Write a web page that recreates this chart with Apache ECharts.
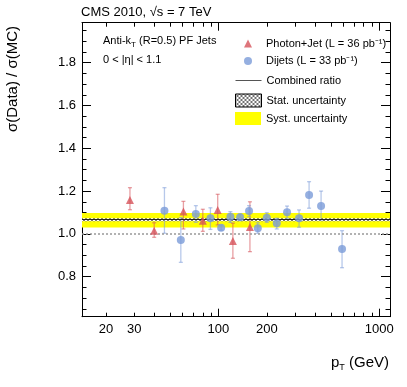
<!DOCTYPE html>
<html>
<head>
<meta charset="utf-8">
<script src="https://cdn.jsdelivr.net/npm/echarts@6/dist/echarts.min.js"></script>
<style>
  html, body { margin: 0; padding: 0; background: #fff; }
  #chart { width: 407px; height: 387px; }
</style>
</head>
<body>
<div id="chart"></div>
<script>
// Photon+Jet points
const photonPt = [28.2, 39.9, 60.6, 80, 99, 123, 157];
const photonRatio = [1.158, 1.015, 1.105, 1.062, 1.112, 0.967, 1.032];
const photonLow = [1.113, 0.984, 1.023, 1.012, 1.042, 0.886, 0.917];
const photonHigh = [1.216, 1.052, 1.152, 1.115, 1.185, 1.050, 1.150];

// Dijet points
const dijetPt = [46.2, 58.4, 72.4, 89.2, 104, 118.7, 136.4, 155, 175.7, 199.8, 230.5, 267, 317, 366, 434.5, 586.6];
const dijetRatio = [1.108, 0.972, 1.093, 1.073, 1.029, 1.080, 1.078, 1.107, 1.026, 1.076, 1.050, 1.101, 1.073, 1.182, 1.130, 0.929];
const dijetLow = [1.003, 0.867, 1.054, 1.021, 1.017, 1.054, 1.063, 1.080, 1.003, 1.054, 1.023, 1.073, 1.031, 1.120, 1.065, 0.842];
const dijetHigh = [1.216, 1.076, 1.132, 1.122, 1.041, 1.104, 1.093, 1.132, 1.052, 1.099, 1.073, 1.130, 1.112, 1.244, 1.200, 1.015];

// combined fit and bands
const combinedRatio = 1.066;
const statBand = [1.059, 1.073];
const systBand = [1.030, 1.098];
const unityLine = 1.0;

// axes
const xRange = [14.2, 1165];
const yRange = [0.613, 1.987];
const xMajorTicks = [100, 1000];
const xMinorTicks = [20, 30, 40, 50, 60, 70, 80, 90, 200, 300, 400, 500, 600, 700, 800, 900];
const xLabels = [20, 30, 100, 200, 1000];
const yLabels = [0.8, 1.0, 1.2, 1.4, 1.6, 1.8];
const yMinorTicks = [0.65, 0.7, 0.75, 0.85, 0.9, 0.95, 1.05, 1.1, 1.15, 1.25, 1.3, 1.35,
                     1.45, 1.5, 1.55, 1.65, 1.7, 1.75, 1.85, 1.9, 1.95];

const legendNames = {
  photon: 'Photon+Jet (L = 36 pb⁻¹)',
  dijet: 'Dijets (L = 33 pb⁻¹)',
  combined: 'Combined ratio',
  stat: 'Stat. uncertainty',
  syst: 'Syst. uncertainty'
};

const FONT = 'Liberation Sans, Arial, Helvetica, sans-serif';
const RED = '#d6525a';
const BLUE = '#7b9bd8';

// crosshatch pattern for the stat band
function hatchPattern() {
  const c = document.createElement('canvas');
  c.width = 4; c.height = 4;
  const g = c.getContext('2d');
  g.fillStyle = '#fff';
  g.fillRect(0, 0, 4, 4);
  g.strokeStyle = '#333';
  g.lineWidth = 0.7;
  g.beginPath();
  g.moveTo(0, 0); g.lineTo(4, 4);
  g.moveTo(4, 0); g.lineTo(0, 4);
  g.stroke();
  return { image: c, repeat: 'repeat' };
}
const hatch = hatchPattern();

function errorBars(color) {
  return function (params, api) {
    const x = api.value(0);
    const lo = api.coord([x, api.value(1)]);
    const hi = api.coord([x, api.value(2)]);
    const w = 2;
    const style = { stroke: color, lineWidth: 1.3 };
    return {
      type: 'group',
      children: [
        { type: 'line', shape: { x1: hi[0], y1: hi[1], x2: lo[0], y2: lo[1] }, style: style },
        { type: 'line', shape: { x1: hi[0] - w, y1: hi[1], x2: hi[0] + w, y2: hi[1] }, style: style },
        { type: 'line', shape: { x1: lo[0] - w, y1: lo[1], x2: lo[0] + w, y2: lo[1] }, style: style }
      ]
    };
  };
}

function xAxisDef(grid, pos, major) {
  return {
    gridIndex: grid, type: 'log', logBase: 10, position: pos,
    min: xRange[0], max: xRange[1],
    axisLine: { show: major, lineStyle: { color: '#000', width: 1 } },
    axisTick: { show: true, inside: true, length: major ? 8 : 4,
                customValues: major ? xMajorTicks : xMinorTicks,
                lineStyle: { color: '#000', width: 1 } },
    axisLabel: { show: major && pos === 'bottom', customValues: xLabels,
                 formatter: v => String(Math.round(v)),
                 color: '#000', fontSize: 13, fontFamily: FONT, margin: 6 },
    splitLine: { show: false }
  };
}

function yAxisDef(grid, pos, major) {
  return {
    gridIndex: grid, type: 'value', position: pos,
    min: yRange[0], max: yRange[1],
    axisLine: { show: major, lineStyle: { color: '#000', width: 1 } },
    axisTick: { show: true, inside: true, length: major ? 9 : 4.5,
                customValues: major ? yLabels : yMinorTicks,
                lineStyle: { color: '#000', width: 1 } },
    axisLabel: { show: major && pos === 'left', customValues: yLabels,
                 formatter: v => v.toFixed(1),
                 color: '#000', fontSize: 13, fontFamily: FONT, margin: 6 },
    splitLine: { show: false }
  };
}

function legendAt(name, left, top, w, h, textPad, item) {
  return {
    data: [Object.assign({ name: name }, item || {})],
    orient: 'vertical', left: left, top: top, padding: 0,
    itemWidth: w, itemHeight: h, itemGap: 0, selectedMode: false,
    textStyle: { color: '#000', fontSize: 11, fontFamily: FONT, padding: [0, 0, 0, textPad] }
  };
}

const chart = echarts.init(document.getElementById('chart'));

chart.setOption({
  animation: false,
  backgroundColor: '#fff',
  grid: [
    { left: 82, right: 17, top: 22.7, bottom: 70.3, containLabel: false },
    { left: 82, right: 17, top: 22.7, bottom: 70.3, containLabel: false }
  ],
  xAxis: [
    xAxisDef(0, 'bottom', true), xAxisDef(0, 'top', true),
    xAxisDef(1, 'bottom', false), xAxisDef(1, 'top', false)
  ],
  yAxis: [
    yAxisDef(0, 'left', true), yAxisDef(0, 'right', true),
    yAxisDef(1, 'left', false), yAxisDef(1, 'right', false)
  ],
  legend: [
    legendAt(legendNames.photon, 244, 38, 8, 8, 9),
    legendAt(legendNames.dijet, 244, 55.5, 8, 8, 9),
    legendAt(legendNames.combined, 235, 75, 26, 12, 0,
             { itemStyle: { opacity: 0 }, lineStyle: { color: '#555', width: 1 } }),
    legendAt(legendNames.stat, 235, 93.5, 26, 13, 0,
             { icon: 'rect', itemStyle: { color: hatch, borderColor: '#000', borderWidth: 1 } }),
    legendAt(legendNames.syst, 235, 112, 26, 13, 0,
             { icon: 'rect', itemStyle: { color: '#ffff00', borderWidth: 0 } })
  ],
  graphic: [
    { type: 'text', x: 81, y: 12,
      style: { text: 'CMS 2010, √s = 7 TeV', font: '13px ' + FONT, fill: '#000', verticalAlign: 'middle' } },
    { type: 'text', x: 103, y: 41,
      style: { text: '{n|Anti-k}{s|T}{n| (R=0.5) PF Jets}', fill: '#000', verticalAlign: 'middle',
               rich: { n: { fontSize: 11, fontFamily: FONT }, s: { fontSize: 8, fontFamily: FONT, padding: [7, 0, 0, 0] } } } },
    { type: 'text', x: 103, y: 60,
      style: { text: '0 < |η| < 1.1', font: '11px ' + FONT, fill: '#000', verticalAlign: 'middle' } },
    { type: 'text', x: 13, y: 79, rotation: Math.PI / 2,
      style: { text: 'σ(Data) / σ(MC)', font: '15px ' + FONT, fill: '#000', align: 'center', verticalAlign: 'middle' } },
    { type: 'text', x: 389, y: 363,
      style: { text: '{n|p}{s|T}{n| (GeV)}', fill: '#000', align: 'right', verticalAlign: 'middle',
               rich: { n: { fontSize: 15, fontFamily: FONT }, s: { fontSize: 9, fontFamily: FONT, padding: [9, 0, 0, 0] } } } }
  ],
  series: [
    {
      name: legendNames.syst, type: 'line', xAxisIndex: 0, yAxisIndex: 0, data: [], z: 1,
      itemStyle: { color: '#ffff00' }, lineStyle: { color: '#ffff00' },
      markArea: { silent: true, itemStyle: { color: '#ffff00' },
                  data: [[{ yAxis: systBand[0] }, { yAxis: systBand[1] }]] }
    },
    {
      name: legendNames.stat, type: 'line', xAxisIndex: 0, yAxisIndex: 0, data: [], z: 2,
      itemStyle: { color: '#888' },
      markArea: { silent: true, itemStyle: { color: hatch },
                  data: [[{ yAxis: statBand[0] }, { yAxis: statBand[1] }]] }
    },
    {
      name: 'unity', type: 'line', xAxisIndex: 0, yAxisIndex: 0, data: [], z: 3,
      markLine: { silent: true, symbol: ['none', 'none'], label: { show: false },
                  lineStyle: { color: '#999', width: 1.5, type: [2, 2] },
                  data: [{ yAxis: unityLine }] }
    },
    {
      name: legendNames.combined, type: 'line', xAxisIndex: 0, yAxisIndex: 0, data: [], z: 3,
      symbol: 'none', color: '#555', lineStyle: { color: '#555', width: 1 },
      markLine: { silent: true, symbol: ['none', 'none'], label: { show: false },
                  lineStyle: { color: '#222', width: 1, type: 'solid' },
                  data: [{ yAxis: combinedRatio }] }
    },
    {
      name: 'photonErr', type: 'custom', xAxisIndex: 0, yAxisIndex: 0, z: 4,
      renderItem: errorBars('rgba(214,82,90,0.55)'),
      encode: { x: 0, y: [1, 2] },
      data: photonPt.map((x, i) => [x, photonLow[i], photonHigh[i]])
    },
    {
      name: 'dijetErr', type: 'custom', xAxisIndex: 0, yAxisIndex: 0, z: 4,
      renderItem: errorBars('rgba(123,155,216,0.55)'),
      encode: { x: 0, y: [1, 2] },
      data: dijetPt.map((x, i) => [x, dijetLow[i], dijetHigh[i]])
    },
    {
      name: legendNames.photon, type: 'scatter', xAxisIndex: 0, yAxisIndex: 0, z: 5,
      symbol: 'triangle', symbolSize: 8, itemStyle: { color: RED },
      data: photonPt.map((x, i) => [x, photonRatio[i]])
    },
    {
      name: legendNames.dijet, type: 'scatter', xAxisIndex: 0, yAxisIndex: 0, z: 5,
      symbol: 'circle', symbolSize: 8, itemStyle: { color: BLUE },
      data: dijetPt.map((x, i) => [x, dijetRatio[i]])
    }
  ]
});
</script>
</body>
</html>
